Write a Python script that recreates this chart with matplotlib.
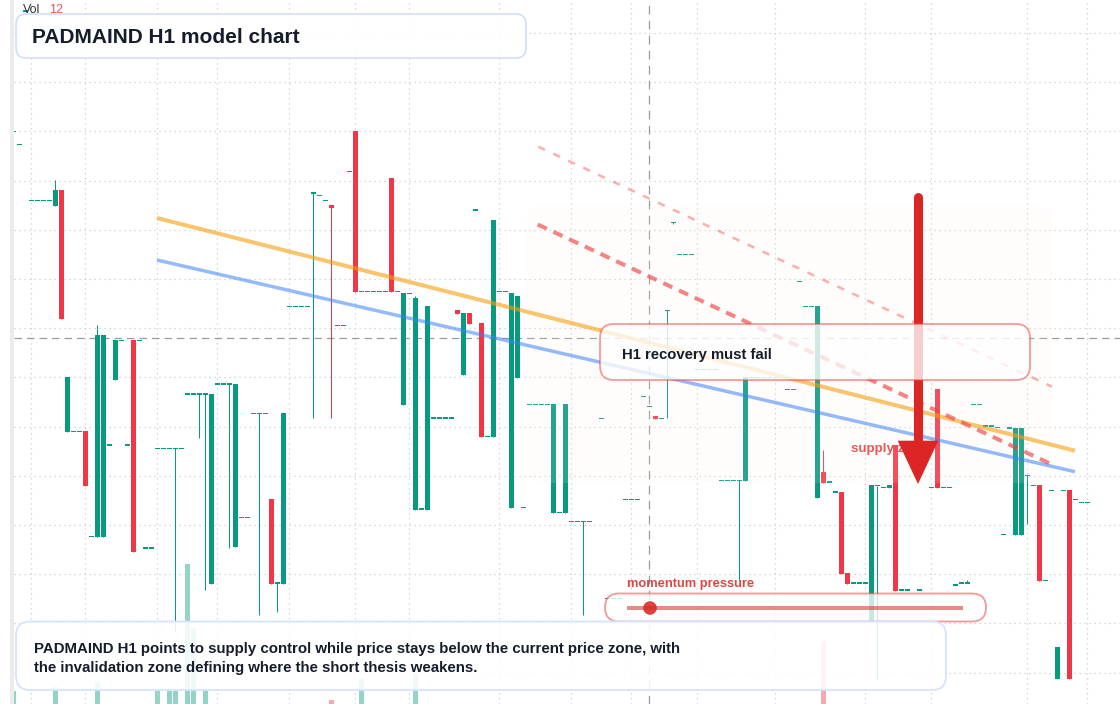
import numpy as np
import matplotlib
matplotlib.use("Agg")
import matplotlib.pyplot as plt
from matplotlib.patches import FancyBboxPatch, Polygon, Rectangle, Circle
from matplotlib.colors import to_rgba

plt.rcParams['font.family'] = ['Liberation Sans', 'DejaVu Sans']

nan = float('nan')

# ---------------- data (H1 bars, price units) ----------------
open_ = [
    66.87, 65.57, 78.90, 59.97, 59.97, 59.97, 59.97, 59.43, 61.00, 36.80,
    36.87, 36.87, 36.90, 26.37, 26.33, 26.33, 35.50, 42.03, 45.97, 35.50,
    46.00, 45.97, 25.20, 25.20, 35.17, 35.17, 35.17, 35.17, 35.17, 40.60,
    40.60, 40.60, 40.60, 21.63, 41.60, 41.60, 41.60, 25.33, 28.27, 28.27,
    38.67, 38.67, 38.67, 30.10, 21.70, 21.63, 49.37, 49.37, 49.37, 49.37,
    60.70, 60.47, 59.97, 59.50, 47.47, 47.47, 62.87, 66.90, 50.87, 50.87,
    50.87, 50.87, 50.87, 62.20, 50.87, 39.50, 50.67, 29.03, 29.10, 29.03,
    38.20, 38.20, 38.20, 38.20, 49.00, 42.53, 48.73, 59.00, 47.73, 36.37,
    36.33, 50.87, 50.87, 29.23, 42.23, 29.27, 39.57, 39.57, 39.57, 39.57,
    28.73, 28.77, 28.73, 27.87, 27.87, 27.87, 27.87, nan, 38.17, 20.17,
    20.17, 20.17, 30.07, 30.07, 30.07, 40.37, 39.37, 38.40, 38.17, 48.97,
    57.77, 54.57, 54.57, 54.57, 43.07, 43.07, 43.07, 43.07, 31.97, 31.97,
    31.97, 31.97, 31.93, 42.27, 42.27, 42.27, 42.27, 42.27, nan, 41.07,
    41.07, 51.87, 49.37, 49.37, 30.23, 32.80, 31.80, 30.80, 30.80, 22.70,
    21.70, 21.70, 21.70, 17.83, 31.43, 31.27, 31.23, 35.50, 21.00, 21.00,
    nan, 21.00, nan, 31.27, 41.10, 31.27, 31.27, 21.50, 21.70, 21.70,
    39.57, 39.57, 37.40, 37.40, 37.25, 26.57, 37.20, 26.53, 26.53, 32.47,
    31.47, 31.50, 21.97, 30.97, 12.13, 30.97, 31.00, 30.07, 29.77, 29.77,
]
high = [
    66.87, 65.57, 78.90, 59.97, 59.97, 59.97, 59.97, 62.00, 61.00, 42.30,
    36.87, 36.87, 36.90, 26.37, 47.50, 46.50, 35.50, 46.00, 45.97, 35.50,
    46.00, 45.97, 25.20, 25.20, 35.17, 35.17, 35.17, 35.17, 35.17, 40.60,
    40.60, 40.60, 40.60, 40.60, 41.60, 41.60, 41.60, 41.60, 28.27, 28.27,
    38.67, 38.67, 38.67, 30.10, 21.70, 38.70, 49.37, 49.37, 49.37, 49.37,
    60.70, 60.47, 59.97, 59.50, 47.47, 47.47, 62.87, 66.90, 50.87, 50.87,
    50.87, 50.87, 50.87, 62.20, 50.87, 50.70, 50.67, 50.40, 29.10, 49.40,
    38.20, 38.20, 38.20, 38.20, 49.00, 48.73, 48.73, 59.00, 47.73, 36.37,
    58.03, 50.87, 50.87, 50.70, 50.40, 29.27, 39.57, 39.57, 39.57, 39.57,
    39.57, 28.77, 39.57, 27.87, 27.87, 27.87, 27.87, nan, 38.17, 20.17,
    20.17, 20.17, 30.07, 30.07, 30.07, 40.37, 39.37, 38.40, 38.17, 48.97,
    57.77, 54.57, 54.57, 54.57, 43.07, 43.07, 43.07, 43.07, 31.97, 31.97,
    31.97, 31.97, 42.27, 42.27, 42.27, 42.27, 42.27, 42.27, nan, 41.07,
    41.07, 51.87, 49.37, 49.37, 49.37, 35.00, 31.80, 30.80, 30.80, 22.70,
    21.70, 21.70, 21.70, 31.50, 31.43, 31.27, 31.47, 35.50, 21.00, 21.00,
    nan, 21.00, nan, 31.27, 41.10, 31.27, 31.27, 21.50, 21.70, 22.00,
    39.57, 39.57, 37.40, 37.40, 37.25, 26.57, 37.20, 37.20, 37.20, 32.47,
    31.47, 31.50, 21.97, 30.97, 15.30, 30.97, 31.00, 30.07, 29.77, 29.77,
]
low = [
    66.87, 65.57, 78.90, 59.97, 59.97, 59.97, 59.97, 59.43, 48.10, 36.80,
    36.87, 36.87, 31.40, 26.37, 26.33, 26.33, 35.50, 42.03, 45.97, 35.50,
    24.83, 45.97, 25.20, 25.20, 35.17, 35.17, 35.17, 16.80, 35.17, 40.60,
    40.60, 36.23, 21.00, 21.63, 41.60, 41.60, 25.23, 25.33, 28.27, 28.27,
    38.67, 18.50, 38.67, 21.63, 18.83, 21.63, 49.37, 49.37, 49.37, 49.37,
    38.23, 60.47, 59.97, 38.23, 47.47, 47.47, 62.87, 50.83, 50.87, 50.87,
    50.87, 50.87, 50.87, 50.83, 50.87, 39.50, 50.67, 29.03, 29.10, 29.03,
    38.20, 38.20, 38.20, 38.20, 48.63, 42.53, 47.63, 59.00, 36.33, 36.37,
    36.33, 50.87, 50.87, 29.23, 42.23, 29.27, 39.57, 39.57, 39.57, 39.57,
    28.73, 28.77, 28.73, 27.87, 27.87, 18.50, 27.87, nan, 38.17, 20.17,
    20.17, 20.17, 30.07, 30.07, 30.07, 40.37, 39.37, 38.10, 38.17, 38.23,
    57.60, 54.57, 54.57, 54.57, 43.07, 43.07, 43.07, 43.07, 31.97, 31.97,
    31.97, 22.00, 31.93, 42.27, 42.27, 42.27, 42.27, 42.27, nan, 41.07,
    41.07, 51.87, 49.37, 49.37, 30.23, 31.73, 31.80, 30.80, 22.63, 21.63,
    21.70, 21.70, 21.70, 17.83, 12.00, 31.27, 31.23, 20.93, 21.00, 21.00,
    nan, 21.00, nan, 31.27, 31.23, 31.27, 31.27, 21.50, 21.70, 21.70,
    39.57, 39.57, 37.40, 37.40, 37.25, 26.57, 37.20, 26.53, 26.53, 27.63,
    31.47, 21.93, 21.97, 30.97, 12.13, 30.97, 12.13, 30.07, 29.77, 29.77,
]
close = [
    66.87, 65.57, 78.90, 59.97, 59.97, 59.97, 59.97, 61.00, 48.10, 42.30,
    36.87, 36.87, 31.40, 26.37, 46.50, 46.50, 35.50, 46.00, 45.97, 35.50,
    24.83, 45.97, 25.20, 25.20, 35.17, 35.17, 35.17, 35.17, 35.17, 40.60,
    40.60, 40.60, 40.60, 40.60, 41.60, 41.60, 41.60, 41.60, 28.27, 28.27,
    38.67, 38.67, 38.67, 21.63, 21.70, 38.70, 49.37, 49.37, 49.37, 49.37,
    60.70, 60.47, 59.97, 59.23, 47.47, 47.47, 62.87, 50.83, 50.87, 50.87,
    50.87, 50.87, 50.87, 50.83, 50.87, 50.70, 50.67, 50.20, 29.10, 49.40,
    38.20, 38.20, 38.20, 38.20, 48.63, 48.73, 47.63, 59.00, 36.33, 36.37,
    58.03, 50.87, 50.87, 50.70, 50.40, 29.27, 39.57, 39.57, 39.57, 39.57,
    39.57, 28.77, 39.57, 27.87, 27.87, 27.87, 27.87, nan, 38.17, 20.17,
    20.17, 20.17, 30.07, 30.07, 30.07, 40.37, 39.37, 38.10, 38.17, 48.97,
    57.77, 54.57, 54.57, 54.57, 43.07, 43.07, 43.07, 43.07, 31.97, 31.97,
    31.97, 31.97, 42.27, 42.27, 42.27, 42.27, 42.27, 42.27, nan, 41.07,
    41.07, 51.87, 49.37, 49.37, 49.37, 31.73, 31.80, 30.80, 22.63, 21.63,
    21.70, 21.70, 21.70, 31.50, 31.43, 31.27, 31.47, 20.93, 21.00, 21.00,
    nan, 21.00, nan, 31.27, 31.23, 31.27, 31.27, 21.50, 21.70, 21.70,
    39.57, 39.57, 37.40, 37.40, 37.25, 26.57, 37.20, 37.20, 37.20, 32.47,
    31.47, 21.93, 21.97, 30.97, 15.30, 30.97, 12.13, 30.07, 29.77, 29.77,
]
volume = [
    13, 0, 0, 0, 0, 0, 0, 17, 0, 0,
    0, 0, 0, 0, 22, 0, 0, 0, 0, 0,
    0, 0, 0, 0, 13, 0, 13, 13, 0, 140,
    76, 0, 13, 0, 0, 0, 0, 0, 0, 0,
    0, 0, 0, 0, 0, 0, 0, 0, 0, 0,
    0, 0, 0, 4, 0, 0, 0, 0, 26, 0,
    0, 0, 0, 0, 0, 0, 0, 31, 0, 0,
    0, 0, 0, 0, 0, 0, 0, 0, 0, 0,
    0, 0, 0, 0, 0, 0, 0, 0, 0, 0,
    0, 0, 0, 0, 0, 0, 0, 0, 0, 0,
    0, 0, 0, 0, 0, 0, 0, 0, 0, 0,
    0, 0, 0, 0, 0, 0, 0, 0, 0, 0,
    0, 0, 0, 0, 0, 0, 0, 0, 0, 0,
    0, 0, 0, 0, 0, 63, 0, 0, 0, 0,
    0, 0, 0, 0, 0, 0, 0, 0, 0, 0,
    0, 0, 0, 0, 0, 0, 0, 0, 0, 0,
    0, 0, 0, 0, 0, 0, 0, 0, 0, 0,
    0, 0, 0, 0, 0, 0, 0, 0, 0, 0,
]

# time-grid bars (session boundaries) and price grid
grid_bars = [3, 12, 24, 34, 46, 57, 66, 81, 93, 103, 114, 127, 142, 153, 169, 179]
grid_prices = [12.75, 17.67, 22.59, 27.51, 32.43, 37.35, 42.27, 47.19,
               52.11, 57.03, 61.95, 66.87, 71.79, 76.71]
crosshair_bar = 106
crosshair_price = 46.17

# analysis overlays (bar index, price)
ema_fast = [(23.95, 58.20), (176.95, 34.93)]
ema_slow = [(23.95, 54.00), (176.95, 32.83)]
supply_trend = [(87.4, 57.55), (173.3, 33.50)]
upper_trend = [(87.5, 65.33), (173.1, 41.33)]
zone_bars = (85.6, 173.1)
zone_prices = (31.7, 59.4)
arrow_bar = 150.78
arrow_prices = (60.28, 35.93, 31.60)   # shaft top, head base, tip
supply_label = (139.6, 34.8)

title = "PADMAIND H1 model chart"
note = "H1 recovery must fail"
momentum_label = "momentum pressure"
summary = ["PADMAIND H1 points to supply control while price stays below the current price zone, with",
           "the invalidation zone defining where the short thesis weakens."]

# ---------------- figure ----------------
W, H = 1120, 704
GREEN = '#089981'
RED = '#F23645'
fig = plt.figure(figsize=(W / 100, H / 100), dpi=100)
fig.patch.set_facecolor('white')

ax = fig.add_axes([14 / W, 0, (W - 14) / W, 1])
vax = ax.twinx()
ax.set_zorder(vax.get_zorder() + 1)
ax.patch.set_visible(False)

o = np.array(open_, float)
h = np.array(high, float)
l = np.array(low, float)
c = np.array(close, float)
x = np.arange(len(o))
valid = ~np.isnan(o)
up = c >= o
cols = np.where(up, GREEN, RED)

ax.set_xlim(0.117, 184.45)
ax.set_ylim(9.6, 80.0)

# volume
vcols = [to_rgba(cc, 0.43) for cc in cols]
vax.bar(x, volume, width=0.78, color=vcols, linewidth=0)
vax.set_ylim(0, 704)
vax.set_axis_off()

# candles
ax.vlines(x[valid], l[valid], h[valid], colors=cols[valid], linewidth=0.75, zorder=3)
bh = np.abs(c - o)
flat = bh < 0.14
bottom = np.where(flat, (o + c) / 2 - 0.07, np.minimum(o, c))
height = np.where(flat, 0.14, bh)
ax.bar(x[valid], height[valid], bottom=bottom[valid], width=0.78,
       color=cols[valid], linewidth=0, zorder=3.1)

# grid + crosshair
ax.set_xticks(grid_bars)
ax.set_yticks(grid_prices)
ax.grid(True, color='#cccccc', linestyle=(0, (1, 3)), linewidth=0.9, zorder=0)
ax.tick_params(length=0, labelbottom=False, labelleft=False)
for s in ax.spines.values():
    s.set_visible(False)
ax.axhline(crosshair_price, color='#9b9b9b', lw=0.9, ls=(0, (6, 4)), zorder=2)
ax.axvline(crosshair_bar, color='#9b9b9b', lw=0.9, ls=(0, (7, 5)), zorder=2)

# supply label (under candles)
ax.text(supply_label[0], supply_label[1], "supply zone", fontsize=9.6, fontweight='bold',
        color='#e04444', ha='left', va='baseline', zorder=2.5)

# zone
zone = FancyBboxPatch((zone_bars[0], zone_prices[0]), zone_bars[1] - zone_bars[0],
                      zone_prices[1] - zone_prices[0],
                      boxstyle="round,pad=0,rounding_size=2.5", mutation_aspect=0.6,
                      facecolor=to_rgba('#fff3e8', 0.13), edgecolor='none', zorder=4)
ax.add_patch(zone)

# trend / average lines
def seg(pts):
    return [p[0] for p in pts], [p[1] for p in pts]

ax.plot(*seg(ema_fast), color=to_rgba('#f59e0b', 0.6), lw=2.9, solid_capstyle='butt', zorder=5)
ax.plot(*seg(ema_slow), color=to_rgba('#3b82f6', 0.55), lw=2.5, solid_capstyle='butt', zorder=5)
ax.plot(*seg(supply_trend), color=to_rgba('#ef4444', 0.65), lw=2.9, ls=(0, (2.5, 1.8)), zorder=5)
ax.plot(*seg(upper_trend), color=to_rgba('#ef4444', 0.42), lw=1.8, ls=(0, (3, 3.6)), zorder=5)

# arrow
ax.plot([arrow_bar, arrow_bar], [arrow_prices[0], arrow_prices[1] - 0.3], color='#dc2626',
        lw=6.5, solid_capstyle='round', zorder=6)
ax.add_patch(Polygon([(arrow_bar - 3.38, arrow_prices[1]), (arrow_bar + 3.38, arrow_prices[1]),
                      (arrow_bar, arrow_prices[2])], closed=True, facecolor='#dc2626',
                     edgecolor='none', zorder=6))

# ---------------- overlay (pixel space) ----------------
ov = fig.add_axes([0, 0, 1, 1])
ov.set_zorder(ax.get_zorder() + 5)
ov.set_xlim(0, W)
ov.set_ylim(H, 0)
ov.set_axis_off()
ov.patch.set_visible(False)

fig.patches.append(Rectangle((10 / W, 0), 4 / W, 1, transform=fig.transFigure,
                             facecolor='#ebebeb', edgecolor='none'))

def rbox(x0, y0, w, hh, r, fc, ec, lw):
    ov.add_patch(FancyBboxPatch((x0, y0), w, hh, boxstyle=f"round,pad=0,rounding_size={r}",
                                facecolor=fc, edgecolor=ec, linewidth=lw))

DARK = '#151c2b'
# title
rbox(16, 14, 510, 44, 10, to_rgba('white', 0.92), '#cfdffa', 1.2)
ov.text(32, 43.3, title, fontsize=15, fontweight='bold', color=DARK, va='baseline')
ov.text(23, 13, "Vol", fontsize=9, color='#333333', va='baseline')
ov.text(49, 13, "12", fontsize=9, color='#ef5350', va='baseline')

# note box
rbox(600, 324, 430, 56, 14, to_rgba('white', 0.78), to_rgba('#ef4444', 0.55), 1.3)
ov.text(622, 359.3, note, fontsize=10.75, fontweight='bold', color=DARK, va='baseline')

# momentum pill
ov.text(627, 587.3, momentum_label, fontsize=9.3, fontweight='bold', color='#e04444', va='baseline')
rbox(605, 593.5, 381, 28, 14, to_rgba('white', 0.78), to_rgba('#ef4444', 0.55), 1.3)
ov.plot([627, 963], [608, 608], color=to_rgba('#dc2626', 0.55), lw=2.9, solid_capstyle='butt')
ov.add_patch(Circle((650, 608), 6.8, facecolor=to_rgba('#dc2626', 0.88), edgecolor='none'))

# summary box
rbox(16, 621.5, 930, 68.5, 14, to_rgba('white', 0.88), '#d6e4fb', 1.3)
ov.text(34, 652.7, summary[0], fontsize=10.8, fontweight='bold', color=DARK, va='baseline')
ov.text(34, 671.7, summary[1], fontsize=10.8, fontweight='bold', color=DARK, va='baseline')

fig.savefig('out.png', dpi=100)
